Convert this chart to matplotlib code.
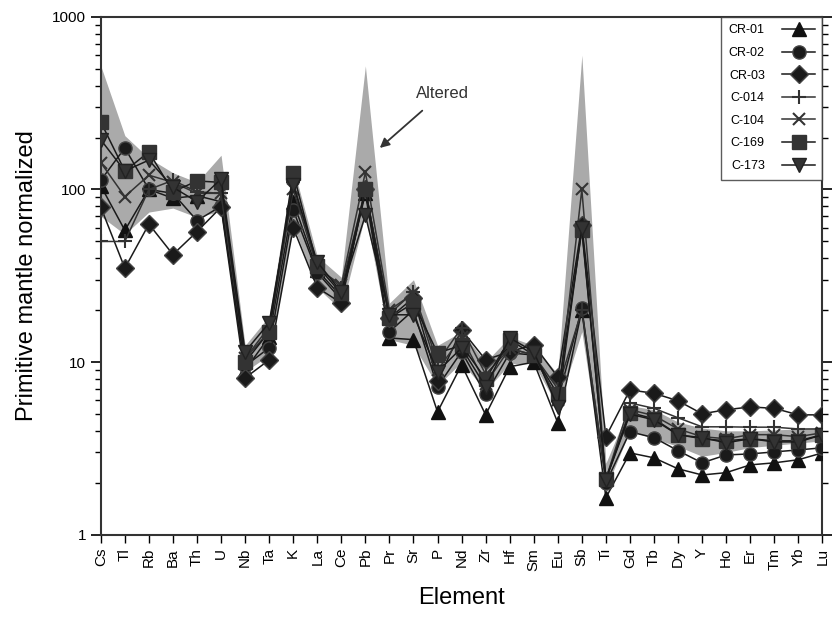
import matplotlib
matplotlib.use('Agg')
import matplotlib.pyplot as plt
import matplotlib.ticker as mticker
import numpy as np

plt.rcParams['font.family'] = ['Liberation Sans', 'DejaVu Sans']

elements = ['Cs', 'Tl', 'Rb', 'Ba', 'Th', 'U', 'Nb', 'Ta', 'K', 'La', 'Ce', 'Pb', 'Pr', 'Sr', 'P',
            'Nd', 'Zr', 'Hf', 'Sm', 'Eu', 'Sb', 'Ti', 'Gd', 'Tb', 'Dy', 'Y', 'Ho', 'Er', 'Tm', 'Yb', 'Lu']

# grey envelope of altered samples
band_hi = [520, 205, 152, 125, 110, 158, 12.5, 18.5, 135, 41, 31, 520, 22, 30, 12.5,
           15, 10, 14, 12.5, 8.5, 600, 2.6, 5.6, 5.3, 4.5, 4.15, 4.0, 4.0, 4.05, 4.1, 4.2]
band_lo = [70, 55, 74, 78, 69, 75, 8.8, 11, 62, 27, 20, 72, 13.5, 12.5, 7.3,
           10, 6.8, 9.8, 9.8, 5.5, 15, 1.85, 4.0, 3.6, 3.25, 2.85, 3.0, 3.2, 3.3, 3.4, 3.5]

cr01 = [105, 58, 100, 89, 92, 85, 9.0, 14, 85, 34, 24, 95, 13.8, 13.5, 5.15,
        9.65, 4.95, 9.4, 10, 4.45, 20, 1.64, 2.98, 2.79, 2.41, 2.22, 2.29, 2.54, 2.61, 2.72, 2.98]
cr02 = [113, 174, 100, 95, 66, 80, 9.5, 12.1, 76, 33, 23, 100, 15, 20, 7.2,
        11.5, 6.5, 11.3, 11, 6.0, 20.5, 2.0, 3.95, 3.65, 3.07, 2.61, 2.9, 2.94, 3.02, 3.1, 3.19]
cr03 = [79, 35, 63, 42, 57, 79, 8.1, 10.3, 60, 27, 22, 100, 18, 23.6, 7.8,
        15.4, 10.3, 11.5, 12.6, 8.2, 62, 3.7, 6.9, 6.6, 5.97, 5.02, 5.3, 5.5, 5.4, 4.95, 4.95]
c014 = [50, 50, 100, 113, 97, 95, 10.5, 16, 110, 36, 27, 100, 19, 25.5, 10,
        15.8, 8.5, 12, 11, 7.0, 20, 2.1, 5.8, 5.4, 4.76, 4.22, 4.22, 4.2, 4.2, 4.1, 4.1]
c104 = [143, 91, 121, 110, 95, 95, 10.5, 15, 100, 35, 28, 126, 20, 25, 9,
        14, 7.5, 12, 11, 6.0, 100, 2.1, 5.3, 4.9, 4.1, 3.7, 3.6, 3.8, 3.8, 3.7, 3.9]
c169 = [246, 128, 165, 97, 112, 110, 10, 15, 125, 36, 25, 100, 18, 22, 11.3,
        12.5, 8, 13.5, 11, 6.5, 58, 2.1, 5.1, 4.7, 3.8, 3.6, 3.5, 3.6, 3.5, 3.5, 3.8]
c173 = [194, 128, 148, 103, 85, 115, 11.5, 16.9, 106, 38, 25.5, 71, 18.8, 18.8, 8.8,
        12.1, 7.2, 13.8, 11.5, 5.5, 60, 2.08, 5.0, 4.63, 3.79, 3.65, 3.41, 3.6, 3.45, 3.45, 3.79]

x = np.arange(len(elements))

fig = plt.figure(figsize=(8.4, 6.24), dpi=100)
ax = fig.add_axes([0.120, 0.143, 0.859, 0.830])

ax.fill_between(x, band_lo, band_hi, color='#aaaaaa', lw=0, zorder=1)

series = [
    ('CR-01', cr01, '^', '#111111', '#111111'),
    ('CR-02', cr02, 'o', '#1a1a1a', '#444444'),
    ('CR-03', cr03, 'D', '#1a1a1a', '#444444'),
    ('C-014', c014, '+', '#333333', '#333333'),
    ('C-104', c104, 'x', '#333333', '#333333'),
    ('C-169', c169, 's', '#333333', '#333333'),
    ('C-173', c173, 'v', '#333333', '#222222'),
]
for name, vals, mk, fc, ec in series:
    ms = 9.5
    if mk == 'D':
        ms = 9
    if mk == 'x':
        ms = 8
    ax.plot(x, vals, color=ec if mk in ('+', 'x') else '#1a1a1a', lw=1.1, marker=mk, ms=ms,
            mfc=fc, mec=ec, mew=1.5 if mk in ('+', 'x') else 1.0, label=name, zorder=3)

ax.set_yscale('log')
ax.set_ylim(1, 1000)
ax.set_xlim(0, len(elements) - 1)
ax.set_xticks(x)
ax.set_xticklabels(elements, rotation=90, fontsize=11)
ax.yaxis.set_major_formatter(mticker.FuncFormatter(lambda v, p: '%g' % v))
ax.yaxis.set_minor_formatter(mticker.NullFormatter())
ax.tick_params(axis='y', which='major', length=7, width=1.2, labelsize=11, right=True, direction='out')
ax.tick_params(axis='y', which='minor', length=4, width=1.0, right=True, direction='out')
ax.tick_params(axis='x', length=6, width=1.0, direction='out')
for s in ax.spines.values():
    s.set_linewidth(1.5)
    s.set_color('#333333')

ax.set_ylabel('Primitive mantle normalized', fontsize=17, labelpad=10)
ax.set_xlabel('Element', fontsize=17, labelpad=12)

ax.annotate('Altered', xy=(11.6, 174), xytext=(14.2, 362), fontsize=12, color='#333333',
            ha='center', va='center',
            arrowprops=dict(arrowstyle='-|>', color='#333333', lw=1.3, mutation_scale=14,
                            shrinkA=8, shrinkB=0))

leg = ax.legend(loc='upper right', markerfirst=False, fontsize=9, frameon=True, fancybox=False,
                borderaxespad=0, handlelength=2.6, handletextpad=1.4, labelspacing=0.85,
                borderpad=0.6)
leg.get_frame().set_edgecolor('#333333')
leg.get_frame().set_linewidth(1.0)

fig.savefig('out.png', dpi=100)
